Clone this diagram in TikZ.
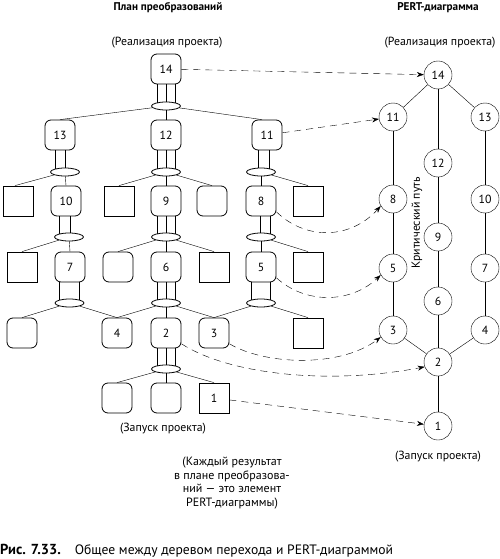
\documentclass[tikz,border=0pt]{standalone}
\usepackage{fontspec}
\setmainfont{PT Sans}
\usetikzlibrary{shapes.geometric,arrows.meta,calc}
\pgfdeclarelayer{bg}
\pgfsetlayers{bg,main}
\newcommand{\twobar}[4]{%
  \draw ([xshift=#3pt]#1.south) |- (#2.center);
  \draw ([xshift=#4pt]#1.south) |- (#2.center);}
\newcommand{\threebar}[2]{%
  \twobar{#1}{#2}{-9}{9}
  \draw (#1.south) -- (#1.south |- #2.center);}
\begin{document}
\begin{tikzpicture}[x=1pt,y=-1pt, line width=0.8pt,
  font=\fontsize{11.8}{13.5}\selectfont,
  rbox/.style={draw, rounded corners=6pt, minimum width=30pt, minimum height=30pt, inner sep=0pt},
  sbox/.style={draw, minimum width=30pt, minimum height=30pt, inner sep=0pt},
  pnode/.style={draw, circle, minimum size=28pt, inner sep=0pt},
  joint/.style={draw, ellipse, fill=white, minimum width=29pt, minimum height=8pt, inner sep=0pt},
  link/.style={dash pattern=on 7pt off 5pt, -{Stealth[length=7pt,width=5pt]}},
  title/.style={font=\fontsize{11.2}{13}\selectfont\bfseries},
  lbl/.style={inner sep=0pt},
]
\useasboundingbox (0,0) rectangle (500,559);

% titles
\node[title] (ttl) at (168,8) {План преобразований};
\node[title] (ttr) at (438,8) {PERT-диаграмма};
\node[lbl] (rl) at (167,43) {(Реализация проекта)};
\node[lbl] (rr) at (440,43) {(Реализация проекта)};

% transformation plan tree
\node[rbox] (t14) at (166,69) {14};
\node[rbox] (t13) at (60,135) {13};
\node[rbox] (t12) at (166,135) {12};
\node[rbox] (t11) at (267,135) {11};

\node[sbox] (s2a) at (18,201) {};
\node[rbox] (t10) at (66,201) {10};
\node[sbox] (s2b) at (119,201) {};
\node[rbox] (t9)  at (166,201) {9};
\node[rbox] (r2c) at (212,201) {};
\node[rbox] (t8)  at (261,201) {8};
\node[sbox] (s2d) at (308,201) {};

\node[sbox] (s3a) at (22,267) {};
\node[rbox] (t7)  at (70,267) {7};
\node[rbox] (r3b) at (118,267) {};
\node[rbox] (t6)  at (166,267) {6};
\node[sbox] (s3c) at (214,267) {};
\node[rbox] (t5)  at (261,267) {5};
\node[sbox] (s3d) at (308,267) {};

\node[rbox] (r4a) at (22,333) {};
\node[rbox] (t4)  at (117,333) {4};
\node[rbox] (t2)  at (166,333) {2};
\node[rbox] (t3)  at (214,333) {3};
\node[sbox] (s4b) at (308,333) {};

\node[rbox] (r5a) at (117,398) {};
\node[rbox] (r5b) at (166,398) {};
\node[sbox] (s1)  at (214,398) {1};

% joints
\node[joint] (e0)  at (166,106) {};
\node[joint] (e1a) at (65,172) {};
\node[joint] (e1b) at (166,172) {};
\node[joint] (e1c) at (261,172) {};
\node[joint] (e2a) at (69,237) {};
\node[joint] (e2b) at (166,237) {};
\node[joint] (e2c) at (261,237) {};
\node[joint] (e3a) at (69.5,303) {};
\node[joint] (e3b) at (166,303) {};
\node[joint] (e3c) at (261,303) {};
\node[joint] (e4)  at (166,369) {};

\begin{pgfonlayer}{bg}
\threebar{t14}{e0}
\twobar{t13}{e1a}{-5}{5}
\threebar{t12}{e1b}
\twobar{t11}{e1c}{-9}{2}
\twobar{t10}{e2a}{-7}{4}
\threebar{t9}{e2b}
\twobar{t8}{e2c}{-1}{9}
\twobar{t7}{e3a}{-11}{9}
\threebar{t6}{e3b}
\twobar{t5}{e3c}{-10}{9}
\threebar{t2}{e4}
\end{pgfonlayer}

% joint branches
\draw (e0) -- (t13.north);
\draw (e0) -- (t12.north);
\draw (e0) -- ([xshift=-5pt]t11.north);
\draw (e1a) -- ([xshift=-3pt]s2a.north);
\draw (e1a) -- (t10.north);
\draw (e1b) -- (s2b.north);
\draw (e1b) -- (t9.north);
\draw (e1b) -- (r2c.north);
\draw (e1c) -- (t8.north);
\draw (e1c) -- (s2d.north);
\draw (e2a) -- (s3a.north);
\draw (e2a) -- (t7.north);
\draw (e2b) -- (r3b.north);
\draw (e2b) -- (t6.north);
\draw (e2b) -- (s3c.north);
\draw (e2c) -- (t5.north);
\draw (e2c) -- (s3d.north);
\draw (e3a) -- (r4a.north);
\draw (e3a) -- (t4.north);
\draw (e3b) -- (t4.north);
\draw (e3b) -- (t2.north);
\draw (e3b) -- (t3.north);
\draw (e3c) -- (t3.north);
\draw (e3c) -- (s4b.north);
\draw (e4) -- (r5a.north);
\draw (e4) -- (r5b.north);
\draw (e4) -- (s1.north);

\node[lbl] (zl) at (163,429) {(Запуск проекта)};
\node[lbl, align=center, font=\fontsize{12}{13.4}\selectfont] (note) at (232,483)
  {(Каждый результат\\в плане преобразова-\\ний — это элемент\\PERT-диаграммы)};

% PERT diagram
\node[pnode] (p14) at (438,75) {14};
\node[pnode] (p11) at (393,117) {11};
\node[pnode] (p13) at (485,117) {13};
\node[pnode] (p12) at (438,163) {12};
\node[pnode] (p8)  at (393,199) {8};
\node[pnode] (p10) at (485,199) {10};
\node[pnode] (p9)  at (438,237) {9};
\node[pnode] (p5)  at (393,268) {5};
\node[pnode] (p7)  at (485,268) {7};
\node[pnode] (p6)  at (438,301) {6};
\node[pnode] (p3)  at (393,330) {3};
\node[pnode] (p4)  at (485,330) {4};
\node[pnode] (p2)  at (438,362) {2};
\node[pnode] (p1)  at (438,426) {1};

\draw (p14) -- (p11);
\draw (p14) -- (p12);
\draw (p14) -- (p13);
\draw (p11) -- (p8);
\draw (p8) -- (p5);
\draw (p5) -- (p3);
\draw (p3) -- (p2);
\draw (p12) -- (p9);
\draw (p9) -- (p6);
\draw (p6) -- (p2);
\draw (p13) -- (p10);
\draw (p10) -- (p7);
\draw (p7) -- (p4);
\draw (p4) -- (p2);
\draw (p2) -- (p1);

\node[lbl, rotate=90] (crit) at (417,223) {Критический путь};
\node[lbl] (zr) at (438,457) {(Запуск проекта)};

% correspondence links
\draw[link] (t14) -- (p14);
\draw[link] (t11) -- (p11);
\draw[link] (t8.-35) .. controls (305,240) and (350,240) .. (p8.-150);
\draw[link] (t5.-35) .. controls (305,304) and (350,304) .. (p5.-150);
\draw[link] (t3.-35) .. controls (265,365) and (340,368) .. (p3.-150);
\draw[link] (t2.-35) .. controls (230,375) and (330,385) .. (p2.-160);
\draw[link] (s1) -- (p1);

% caption
\node[lbl, anchor=base west, font=\fontsize{13.6}{15}\selectfont] (cap) at (0,554)
  {{\fontsize{14.5}{15}\selectfont\bfseries Рис. 7.33.}\hspace{14pt}Общее между деревом перехода и PERT-диаграммой};
\end{tikzpicture}
\end{document}
